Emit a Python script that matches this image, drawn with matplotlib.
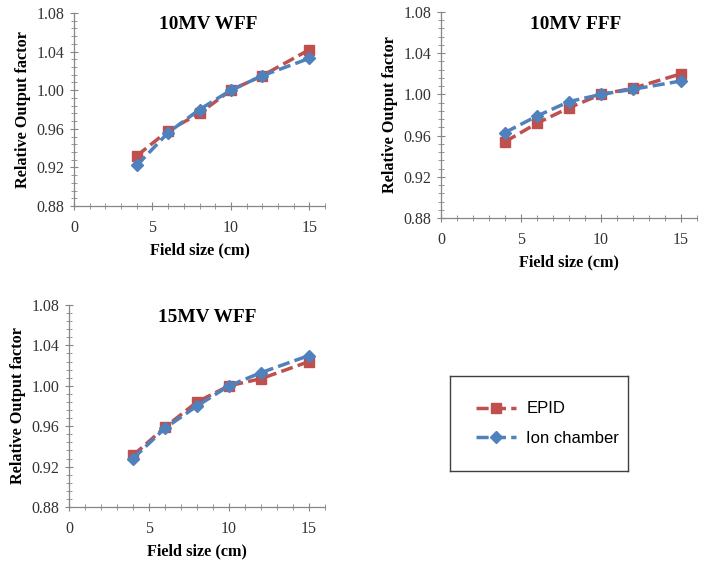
import matplotlib
matplotlib.use("Agg")
import matplotlib.pyplot as plt
from matplotlib.ticker import MultipleLocator, FormatStrFormatter

field_size = [4, 6, 8, 10, 12, 15]

titles = ["10MV WFF", "10MV FFF", "15MV WFF"]

epid_10wff = [0.932, 0.958, 0.976, 1.000, 1.015, 1.042]
ion_10wff = [0.922, 0.956, 0.980, 1.000, 1.015, 1.033]

epid_10fff = [0.954, 0.972, 0.987, 1.000, 1.006, 1.020]
ion_10fff = [0.963, 0.979, 0.993, 1.000, 1.005, 1.013]

epid_15wff = [0.931, 0.959, 0.984, 1.000, 1.007, 1.024]
ion_15wff = [0.928, 0.958, 0.980, 1.000, 1.013, 1.030]

epid_color = "#C0504D"
ion_color = "#4F81BD"
spine_color = "#868686"

fig = plt.figure(figsize=(7.04, 5.64), dpi=100)

# axes rectangles (pixels -> fractions)
W, H = 704, 564
rects = [
    (74, 13, 325, 206),
    (441, 12, 697, 218),
    (69, 305, 325, 507),
]
title_pos = [(0.534, 0.938), (0.527, 0.937), (0.54, 0.94)]
data = [(epid_10wff, ion_10wff), (epid_10fff, ion_10fff), (epid_15wff, ion_15wff)]

serif = "Liberation Serif"

for (x0, y0, x1, y1), title, tp, (epid, ion) in zip(rects, titles, title_pos, data):
    ax = fig.add_axes([x0 / W, 1 - y1 / H, (x1 - x0) / W, (y1 - y0) / H])
    ax.plot(field_size, epid, color=epid_color, lw=2.5, ls=(0, (3.5, 1.5)),
            marker="s", ms=6.5, label="EPID")
    ax.plot(field_size, ion, color=ion_color, lw=2.5, ls=(0, (3.5, 1.5)),
            marker="D", ms=6, label="Ion chamber")
    ax.set_xlim(0, 16)
    ax.set_ylim(0.88, 1.08)
    ax.xaxis.set_major_locator(MultipleLocator(5))
    ax.xaxis.set_minor_locator(MultipleLocator(1))
    ax.yaxis.set_major_locator(MultipleLocator(0.04))
    ax.yaxis.set_minor_locator(MultipleLocator(0.008))
    ax.yaxis.set_major_formatter(FormatStrFormatter("%.2f"))
    for s in ["top", "right"]:
        ax.spines[s].set_visible(False)
    for s in ["left", "bottom"]:
        ax.spines[s].set_color(spine_color)
        ax.spines[s].set_linewidth(0.9)
    ax.tick_params(which="major", direction="inout", length=6, color=spine_color,
                   labelsize=11.5, labelcolor="#333333")
    ax.tick_params(axis="x", which="major", pad=7)
    ax.tick_params(axis="y", which="major", pad=4)
    ax.tick_params(which="minor", direction="inout", length=4, color=spine_color)
    for lab in ax.get_xticklabels() + ax.get_yticklabels():
        lab.set_fontfamily(serif)
    ax.text(tp[0], tp[1], title, transform=ax.transAxes, ha="center", va="center",
            fontsize=13.9, fontweight="bold", fontfamily=serif)
    ax.set_xlabel("Field size (cm)", fontsize=11.7, fontweight="bold",
                  fontfamily=serif, labelpad=5)
    ax.set_ylabel("Relative Output factor", fontsize=11.7, fontweight="bold",
                  fontfamily=serif, labelpad=4)
    handles, labels = ax.get_legend_handles_labels()

# legend in its own framed box
lax = fig.add_axes([450 / W, 1 - 471 / H, 178 / W, 95 / H])
lax.set_xticks([])
lax.set_yticks([])
for s in lax.spines.values():
    s.set_color("#404040")
    s.set_linewidth(1.0)
lax.legend(handles, labels, loc="center left", frameon=False,
           prop={"family": "Liberation Sans", "size": 12},
           handlelength=2.4, handletextpad=0.6, labelspacing=0.85,
           bbox_to_anchor=(0.11, 0.5), borderaxespad=0)

fig.savefig("out.png", dpi=100)
